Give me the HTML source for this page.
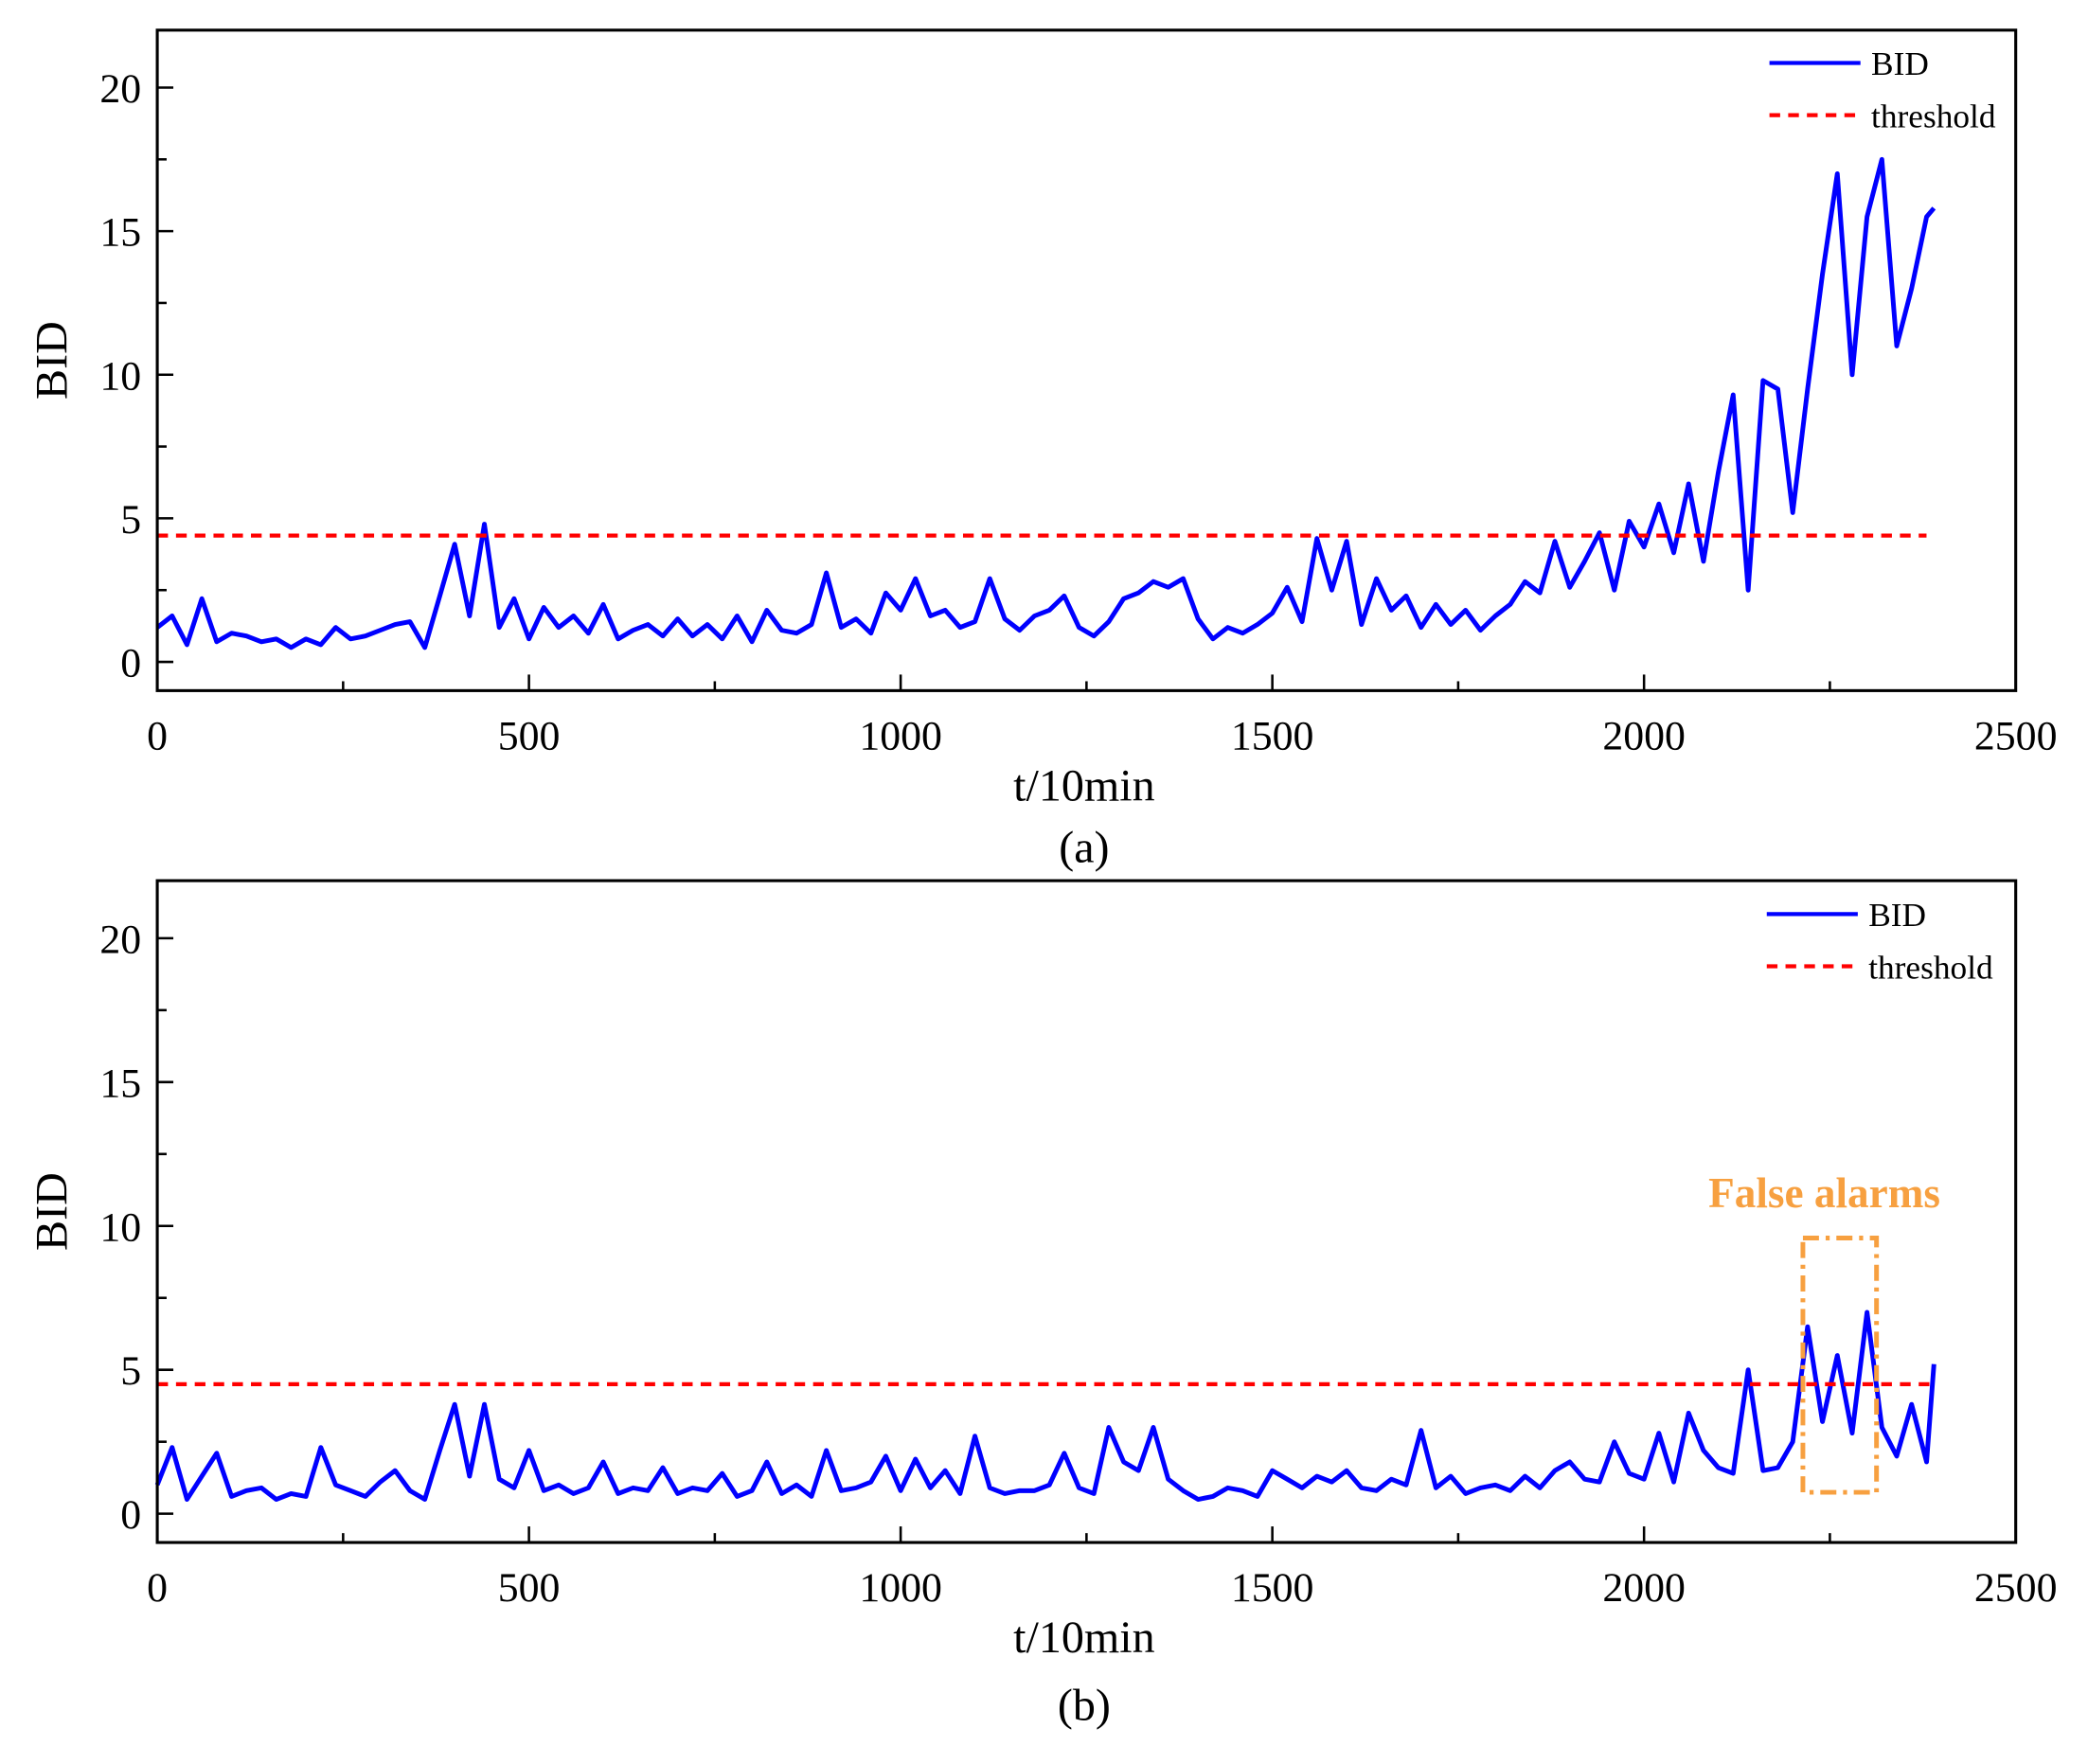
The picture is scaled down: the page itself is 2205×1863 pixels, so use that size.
<!DOCTYPE html>
<html><head><meta charset="utf-8"><style>
html,body{margin:0;padding:0;background:#fff;}
svg{display:block;font-family:"Liberation Serif",serif;}
</style></head><body>
<svg id="chart" width="2205" height="1863" viewBox="0 0 1560 1318" xmlns="http://www.w3.org/2000/svg">
<g id="pa"></g>
<g id="pb"></g>
</svg>
<script>
const xTicks = [0, 500, 1000, 1500, 2000, 2500];
const yTicks = [0, 5, 10, 15, 20];
const timesA = [];
for (let t = 0; t <= 2380; t += 20) timesA.push(t);
const bidA = [1.2,1.6,0.6,2.2,0.7,1.0,0.9,0.7,0.8,0.5,
0.8,0.6,1.2,0.8,0.9,1.1,1.3,1.4,0.5,2.3,
4.1,1.6,4.8,1.2,2.2,0.8,1.9,1.2,1.6,1.0,
2.0,0.8,1.1,1.3,0.9,1.5,0.9,1.3,0.8,1.6,
0.7,1.8,1.1,1.0,1.3,3.1,1.2,1.5,1.0,2.4,
1.8,2.9,1.6,1.8,1.2,1.4,2.9,1.5,1.1,1.6,
1.8,2.3,1.2,0.9,1.4,2.2,2.4,2.8,2.6,2.9,
1.5,0.8,1.2,1.0,1.3,1.7,2.6,1.4,4.3,2.5,
4.2,1.3,2.9,1.8,2.3,1.2,2.0,1.3,1.8,1.1,
1.6,2.0,2.8,2.4,4.2,2.6,3.5,4.5,2.5,4.9,
4.0,5.5,3.8,6.2,3.5,6.6,9.3,2.5,9.8,9.5,
5.2,9.5,13.5,17.0,10.0,15.5,17.5,11.0,13.0,15.5];
const bidB = [1.0,2.3,0.5,1.3,2.1,0.6,0.8,0.9,0.5,0.7,
0.6,2.3,1.0,0.8,0.6,1.1,1.5,0.8,0.5,2.2,
3.8,1.3,3.8,1.2,0.9,2.2,0.8,1.0,0.7,0.9,
1.8,0.7,0.9,0.8,1.6,0.7,0.9,0.8,1.4,0.6,
0.8,1.8,0.7,1.0,0.6,2.2,0.8,0.9,1.1,2.0,
0.8,1.9,0.9,1.5,0.7,2.7,0.9,0.7,0.8,0.8,
1.0,2.1,0.9,0.7,3.0,1.8,1.5,3.0,1.2,0.8,
0.5,0.6,0.9,0.8,0.6,1.5,1.2,0.9,1.3,1.1,
1.5,0.9,0.8,1.2,1.0,2.9,0.9,1.3,0.7,0.9,
1.0,0.8,1.3,0.9,1.5,1.8,1.2,1.1,2.5,1.4,
1.2,2.8,1.1,3.5,2.2,1.6,1.4,5.0,1.5,1.6,
2.5,6.5,3.2,5.5,2.8,7.0,3.0,2.0,3.8,1.8];
const thresholdA = 4.4;
const thresholdB = 4.5;
const NS = "http://www.w3.org/2000/svg";
function mk(parent, tag, attrs){const e=document.createElementNS(NS,tag);for(const k in attrs)e.setAttribute(k,attrs[k]);parent.appendChild(e);return e;}

function panel(g, top, bottom, ys, lastV, thr, thrEnd, letter, letterY, legY, legX){
  const L=117.5,R=1506;
  const yy=v=>bottom-(v+1)*(bottom-top)/23;
  const xx=t=>L+t*(R-L)/2500;
  let d="";
  ys.forEach((v,i)=>{d+=(i?"L":"M")+xx(timesA[i]).toFixed(1)+","+yy(v).toFixed(1);});
  d+="L"+xx(2390).toFixed(1)+","+yy(lastV).toFixed(1);
  const ln=mk(g,"path",{d:d,fill:"none",stroke:"#0000ff","stroke-width":3.5,"stroke-linejoin":"round"});
  
  
  const th=mk(g,"line",{x1:xx(0),x2:xx(thrEnd),y1:yy(thr),y2:yy(thr),stroke:"#ff0000","stroke-width":3,"stroke-dasharray":"8,6"});
  
  
  const fr=mk(g,"rect",{x:L,y:top,width:R-L,height:bottom-top,fill:"none",stroke:"#000","stroke-width":2.2});
  
  
  for(let t=250;t<2500;t+=250){
    const big=t%500===0;
    mk(g,"line",{x1:xx(t),x2:xx(t),y1:bottom,y2:bottom-(big?12:7),stroke:"#000","stroke-width":1.8});
  }
  xTicks.forEach(t=>{
    const tx=mk(g,"text",{x:xx(t),y:bottom+44,"text-anchor":"middle","font-size":31});
    tx.textContent=t;
    
    
  });
  for(let v=0;v<=21;v+=2.5){
    const big=v%5===0;
    mk(g,"line",{x1:L,x2:L+(big?12:7),y1:yy(v),y2:yy(v),stroke:"#000","stroke-width":1.8});
  }
  yTicks.forEach(v=>{
    const tx=mk(g,"text",{x:L-12,y:yy(v)+11,"text-anchor":"end","font-size":31});
    tx.textContent=v;
    
    
  });
  const xt=mk(g,"text",{x:810,y:bottom+82,"text-anchor":"middle","font-size":34});
  xt.textContent="t/10min";
  
  
  const yt=mk(g,"text",{x:0,y:0,"text-anchor":"middle","font-size":34,transform:`translate(50,${(top+bottom)/2}) rotate(-90)`});
  yt.textContent="BID";
  
  
  const lt=mk(g,"text",{x:810,y:letterY,"text-anchor":"middle","font-size":34});
  lt.textContent=letter;
  
  
  mk(g,"line",{x1:legX,x2:legX+68,y1:legY,y2:legY,stroke:"#0000ff","stroke-width":3});
  const l1=mk(g,"text",{x:legX+76,y:legY+9,"font-size":25});
  l1.textContent="BID";
  
  
  mk(g,"line",{x1:legX,x2:legX+68,y1:legY+39,y2:legY+39,stroke:"#ff0000","stroke-width":3,"stroke-dasharray":"8,6"});
  const l2=mk(g,"text",{x:legX+76,y:legY+48,"font-size":25});
  l2.textContent="threshold";
  
  
}
panel(document.getElementById("pa"),22.5,516,bidA,15.8,thresholdA,2380,"(a)",644,47,1322);
panel(document.getElementById("pb"),658,1152.5,bidB,5.2,thresholdB,2390,"(b)",1285,683,1320);
const gb=document.getElementById("pb");
const box=mk(gb,"rect",{x:1347,y:925,width:55,height:190,fill:"none",stroke:"#f7a040","stroke-width":3.5,"stroke-dasharray":"12,5,3,5"});


const fa=mk(gb,"text",{x:1363,y:902,"text-anchor":"middle","font-size":32,"font-weight":"bold",fill:"#f7a040"});
fa.textContent="False alarms";


</script>
</body></html>
